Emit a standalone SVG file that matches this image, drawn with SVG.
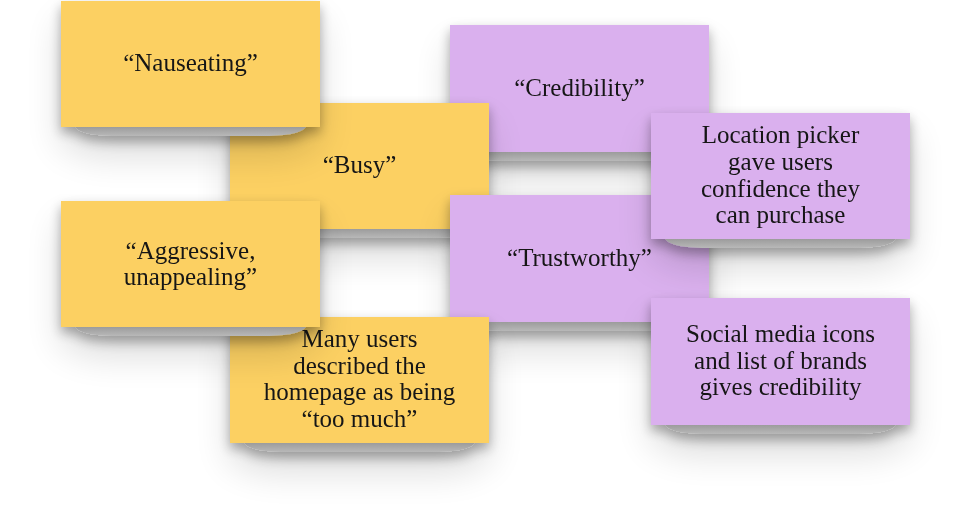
<svg xmlns="http://www.w3.org/2000/svg" width="971" height="532" viewBox="0 0 971 532">
  <defs>
    <filter id="shadow" x="-20%" y="-20%" width="140%" height="160%">
      <feGaussianBlur in="SourceAlpha" stdDeviation="6" result="b1"/>
      <feOffset in="b1" dx="0" dy="6" result="o1"/>
      <feComponentTransfer in="o1" result="s1"><feFuncA type="linear" slope="0.32"/></feComponentTransfer>
      <feGaussianBlur in="SourceAlpha" stdDeviation="18" result="b2"/>
      <feOffset in="b2" dx="0" dy="20" result="o2"/>
      <feComponentTransfer in="o2" result="s2"><feFuncA type="linear" slope="0.14"/></feComponentTransfer>
      <feMerge>
        <feMergeNode in="s2"/>
        <feMergeNode in="s1"/>
        <feMergeNode in="SourceGraphic"/>
      </feMerge>
    </filter>
    <linearGradient id="curl" x1="0" y1="0" x2="0" y2="1">
      <stop offset="0" stop-color="#9c9c9c"/>
      <stop offset="1" stop-color="#b8b8b8"/>
    </linearGradient>
    <path id="curlShape" d="M14,0 C20,7 35,9 60,9 L199,9 C224,9 239,7 245,0 Z"/>
  </defs>
  <style>
    .yellow { fill: #fcd062; }
    .purple { fill: #dab0ee; }
    .curl { fill: url(#curl); }
    .note { filter: url(#shadow); }
    text { font-family: "Liberation Serif", "Times New Roman", serif; font-size: 25px; fill: #161616; text-anchor: middle; }
  </style>
  <rect width="971" height="532" fill="#ffffff"/>

  <g id="credibility" class="note" transform="translate(450,25)">
    <use href="#curlShape" class="curl" y="127"/>
    <rect class="purple" width="259" height="127"/>
    <text x="129.5" y="70.5">“Credibility”</text>
  </g>

  <g id="busy" class="note" transform="translate(230,103)">
    <use href="#curlShape" class="curl" y="126"/>
    <rect class="yellow" width="259" height="126"/>
    <text x="129.5" y="70">“Busy”</text>
  </g>

  <g id="trustworthy" class="note" transform="translate(450,195)">
    <use href="#curlShape" class="curl" y="127"/>
    <rect class="purple" width="259" height="127"/>
    <text x="129.5" y="70.5">“Trustworthy”</text>
  </g>

  <g id="many-users" class="note" transform="translate(230,317)">
    <use href="#curlShape" class="curl" y="126"/>
    <rect class="yellow" width="259" height="126"/>
    <text x="129.5" y="30">Many users</text>
    <text x="129.5" y="56.7">described the</text>
    <text x="129.5" y="83.3">homepage as being</text>
    <text x="129.5" y="110">“too much”</text>
  </g>

  <g id="nauseating" class="note" transform="translate(61,1)">
    <use href="#curlShape" class="curl" y="126"/>
    <rect class="yellow" width="259" height="126"/>
    <text x="129.5" y="70">“Nauseating”</text>
  </g>

  <g id="aggressive" class="note" transform="translate(61,201)">
    <use href="#curlShape" class="curl" y="126"/>
    <rect class="yellow" width="259" height="126"/>
    <text x="129.5" y="57.5">“Aggressive,</text>
    <text x="129.5" y="84">unappealing”</text>
  </g>

  <g id="location-picker" class="note" transform="translate(651,113)">
    <use href="#curlShape" class="curl" y="126"/>
    <rect class="purple" width="259" height="126"/>
    <text x="129.5" y="30.3">Location picker</text>
    <text x="129.5" y="57">gave users</text>
    <text x="129.5" y="83.7">confidence they</text>
    <text x="129.5" y="110.3">can purchase</text>
  </g>

  <g id="social-media" class="note" transform="translate(651,298)">
    <use href="#curlShape" class="curl" y="127"/>
    <rect class="purple" width="259" height="127"/>
    <text x="129.5" y="43.8">Social media icons</text>
    <text x="129.5" y="70.5">and list of brands</text>
    <text x="129.5" y="97.2">gives credibility</text>
  </g>

  <g id="connectors"/>
</svg>
